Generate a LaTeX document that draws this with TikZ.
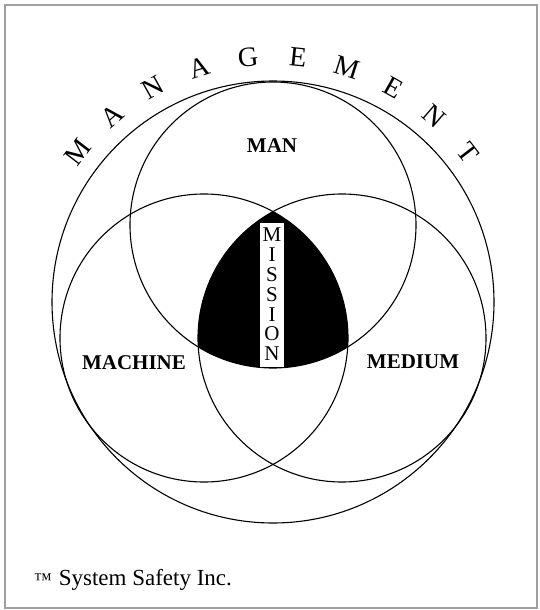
\documentclass[tikz,border=0pt]{standalone}
\usepackage{fontspec}
\setmainfont{Liberation Serif}
\begin{document}
\begin{tikzpicture}[x=1pt,y=-1pt,
  ring/.style={draw=black, line width=1.1pt},
  lab/.style={font=\fontsize{21}{21}\selectfont\bfseries, inner sep=0pt},
  arcl/.style={font=\fontsize{28}{28}\selectfont, inner sep=0pt},
  misl/.style={font=\fontsize{21}{21}\selectfont, inner sep=0pt},
  foot/.style={font=\fontsize{23}{23}\selectfont, inner sep=0pt, anchor=base west}]
\useasboundingbox (0,0) rectangle (539,610);
\draw[gray!75, line width=1.6pt] (5,5) rectangle (537,608);

\coordinate (cO) at (273,302);
\coordinate (cMan) at (273,225);
\coordinate (cMach) at (204,338);
\coordinate (cMed) at (342,338);

\begin{scope}
  \clip (cMan) circle[radius=143pt];
  \clip (cMach) circle[radius=144pt];
  \fill[black] (cMed) circle[radius=144pt];
\end{scope}

\draw[ring] (cO) circle[radius=221pt];
\draw[ring] (cMan) circle[radius=143pt];
\draw[ring] (cMach) circle[radius=144pt];
\draw[ring] (cMed) circle[radius=144pt];

\node[lab] (man) at (272,146) {MAN};
\node[lab] (machine) at (134,363) {MACHINE};
\node[lab] (medium) at (413,362) {MEDIUM};

\node[draw=black, fill=white, line width=0.8pt, minimum width=25pt, minimum height=145pt, inner sep=0pt] (mbox) at (271.5,294.5) {};
\foreach \l [count=\i from 0] in {M,I,S,S,I,O,N}
  \node[misl] (ms\i) at (272,{235+19.8*\i}) {\l};

\foreach \l [count=\i from 0] in {M,A,N,A,G,E,M,E,N,T} {
  \pgfmathsetmacro\ang{142.5-11.67*\i}
  \node[arcl, rotate=\ang-90] (mg\i) at ({273+246*cos(\ang)}, {302-246*sin(\ang)}) {\l};
}

\node[foot] (credit) at (34,585) {{\fontsize{18}{18}\selectfont ™}\hspace{7pt}System Safety Inc.};
\end{tikzpicture}
\end{document}
